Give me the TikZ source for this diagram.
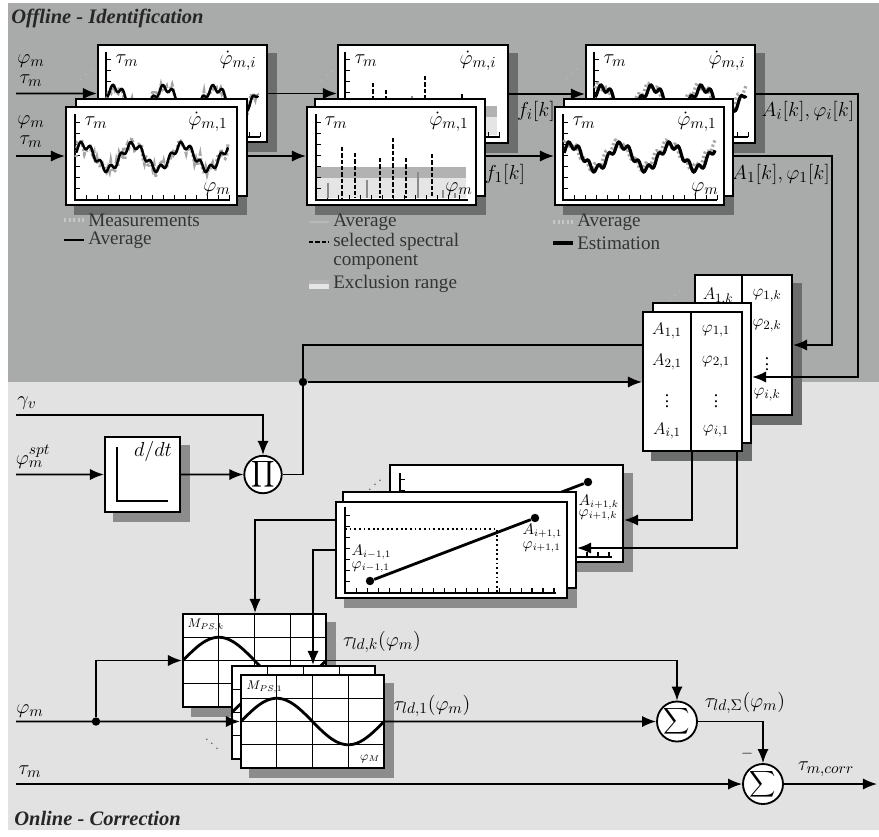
\documentclass[tikz,border=0pt]{standalone}
\usepackage{amsmath}
\usepackage{amssymb}
\usepackage{fontspec}
\setmainfont{Liberation Serif}
\usetikzlibrary{arrows.meta,fit}

\definecolor{offlinebg}{RGB}{169,171,170}
\definecolor{onlinebg}{RGB}{226,226,226}
\definecolor{shadowdark}{RGB}{108,109,109}
\definecolor{shadowlight}{RGB}{140,140,140}

\pgfdeclarelayer{bglayer}
\pgfdeclarelayer{shadowlayer}
\pgfsetlayers{bglayer,shadowlayer,main}

% shadow behind a sheet
\newcommand{\castshadow}[2]{%
  \begin{pgfonlayer}{shadowlayer}
    \fill[#2] ([shift={(9,9)}]#1.south west) rectangle ([shift={(9,9)}]#1.north east);
  \end{pgfonlayer}}

% axes with tick combs: left, top, right, bottom
\newcommand{\plotaxes}[4]{%
  \draw[xticks] (#1,{#4-2.5}) -- (#3,{#4-2.5});
  \draw[xticks] ({#1+2.5},#4) -- ({#1+2.5},#2);
  \draw[axisline] (#1,#2) -- (#1,#4) -- (#3,#4);}

% torque ripple: style, peak, centre line, from, to
\newcommand{\torquewave}[5]{%
  \draw[#1] plot[domain=#4:#5, samples=200] (\x, {#3-12*cos(7.2*(\x-#2))+3.5*sin(36*(\x-#2))});}

% scattered measurements round the ripple
\newcommand{\noisywave}[4]{%
  \draw[meas] plot[domain=#3:#4, samples=110] (\x, {#2-12*cos(7.2*(\x-#1))+3.5*sin(36*(\x-#1))+6*rand});}

% look-up map, top left corner
\newcommand{\lutmap}[2]{%
  \foreach \n in {1,2,3}{
    \draw[gridline] ({#1+\n*35.75},#2) -- ++(0,93);
    \draw[gridline] (#1,{#2+\n*23.25}) -- ++(143,0);}
  \draw[mapcurve] plot[domain=0:143, samples=80] ({#1+\x}, {#2+46.5-23.25*sin(2.5175*\x)});}

\pgfmathsetseed{7}

\begin{document}
\begin{tikzpicture}[x=0.025cm, y=-0.025cm,
  sheet/.style={draw, line width=1.5pt, fill=white, inner sep=0pt},
  wire/.style={line width=1.2pt},
  flow/.style={wire, -{Latex[length=10pt,width=8pt]}},
  junction/.style={circle, fill=black, inner sep=0pt, minimum size=6pt},
  opnode/.style={circle, draw, line width=1.3pt, fill=white, inner sep=0pt},
  axisline/.style={line width=1.3pt},
  xticks/.style={line width=0.125cm, dash pattern=on 1pt off 6.8pt},
  gridline/.style={line width=0.6pt},
  mapcurve/.style={line width=2pt},
  meas/.style={black!35, line width=2.2pt, dash pattern=on 1.6pt off 1.6pt},
  measkey/.style={meas, white!78!black},
  avgline/.style={line width=1.8pt},
  estline/.style={line width=2.3pt},
  selbar/.style={line width=2pt, dash pattern=on 3pt off 1.5pt},
  avgbar/.style={black!45, line width=1.2pt},
  avgkey/.style={avgbar, white!72!black},
  guide/.style={line width=1.3pt, dotted},
  segment/.style={line width=2pt},
  sig/.style={inner sep=1pt, font=\fontsize{15.5}{17}\selectfont},
  entry/.style={inner sep=1pt, font=\fontsize{12.5}{14}\selectfont},
  note/.style={inner sep=1pt, font=\fontsize{10.5}{12}\selectfont},
  mini/.style={inner sep=1pt, font=\fontsize{9}{10}\selectfont},
  legendtext/.style={anchor=west, inner sep=0pt, text=black!80, font=\fontsize{13.6}{15}\selectfont},
  heading/.style={anchor=west, inner sep=0pt, text=black!85, font=\fontsize{14.6}{16}\selectfont\bfseries\itshape},
  stackdots/.style={inner sep=0pt, text=white!72!black},
  lowdots/.style={inner sep=0pt, text=black!60}
]
\useasboundingbox (0,0) rectangle (879,836);
\begin{pgfonlayer}{bglayer}
  \fill[white] (0,0) rectangle (879,836);
  \fill[offlinebg] (8,3) rectangle (879,382);
  \fill[onlinebg] (8,382) rectangle (879,830);
\end{pgfonlayer}

\node[heading] (offline) at (11,18) {Offline - Identification};
\node[heading] (online) at (14,818) {Online - Correction};

% averaging of the measurements
\node[sheet, fit={(98,45) (267,142)}] (measback) {};
\castshadow{measback}{shadowdark}
\plotaxes{106}{52}{260}{137}
\noisywave{115}{100}{107}{258}
\torquewave{avgline}{115}{100}{107}{258}
\node[sig] (measbacktau) at (127,61) {$\tau_m$};
\node[sig] (measbackrate) at (238,61) {$\dot\varphi_{m,i}$};
\node[sheet, fit={(76,99) (247,196)}] (measmid) {};
\node[sheet, fit={(66,107) (237,205)}] (measfront) {};
\castshadow{measfront}{shadowdark}
\plotaxes{75}{114}{230}{200}
\noisywave{83}{157}{76}{228}
\torquewave{avgline}{83}{157}{76}{228}
\node[sig] (measfronttau) at (96,123) {$\tau_m$};
\node[sig] (measfrontrate) at (208,122) {$\dot\varphi_{m,1}$};
\node[sig] (measfrontphi) at (217,189) {$\varphi_m$};
\node[stackdots] (measdots) at (86,71) {\reflectbox{$\ddots$}};

% spectral analysis
\node[sheet, fit={(338,45) (508,143)}] (specback) {};
\castshadow{specback}{shadowdark}
\fill[black!30] (346,106) rectangle (497,117);
\fill[black!10] (346,117) rectangle (497,135);
\plotaxes{345}{52}{500}{137}
\foreach \bx/\by in {412/96, 440/120, 484/124}
  \draw[avgbar] (\bx,\by) -- (\bx,135);
\foreach \bx/\by in {373/83, 386/90, 425/76, 462/94}
  \draw[selbar] (\bx,\by) -- (\bx,135);
\node[sig] (specbacktau) at (366,61) {$\tau_m$};
\node[sig] (specbackrate) at (478,61) {$\dot\varphi_{m,i}$};
\node[sheet, fit={(315,99) (485,196)}] (specmid) {};
\node[sheet, fit={(307,107) (476,205)}] (specfront) {};
\castshadow{specfront}{shadowdark}
\fill[black!30] (317,167) rectangle (466,178);
\fill[black!10] (317,178) rectangle (466,198);
\plotaxes{316}{114}{468}{200}
\foreach \bx/\by in {328/183, 367/180, 418/172, 443/190, 455/193}
  \draw[avgbar] (\bx,\by) -- (\bx,198);
\foreach \bx/\by in {342/147, 355/153, 380/158, 393/138, 406/158, 432/154}
  \draw[selbar] (\bx,\by) -- (\bx,198);
\node[sig] (specfronttau) at (336,123) {$\tau_m$};
\node[sig] (specfrontrate) at (449,122) {$\dot\varphi_{m,1}$};
\node[sig] (specfrontphi) at (459,189) {$\varphi_m$};
\node[stackdots] (specdots) at (327,72) {\reflectbox{$\ddots$}};

% estimation
\node[sheet, fit={(586,45) (755,143)}] (estback) {};
\castshadow{estback}{shadowdark}
\plotaxes{594}{52}{748}{137}
\torquewave{meas}{600}{98}{595}{746}
\torquewave{estline}{603}{100}{595}{746}
\node[sig] (estbacktau) at (615,61) {$\tau_m$};
\node[sig] (estbackrate) at (727,61) {$\dot\varphi_{m,i}$};
\node[sheet, fit={(564,99) (733,196)}] (estmid) {};
\node[sheet, fit={(555,107) (724,205)}] (estfront) {};
\castshadow{estfront}{shadowdark}
\plotaxes{563}{114}{717}{200}
\torquewave{meas}{568}{155}{564}{715}
\torquewave{estline}{571}{157}{564}{715}
\node[sig] (estfronttau) at (584,123) {$\tau_m$};
\node[sig] (estfrontrate) at (697,122) {$\dot\varphi_{m,1}$};
\node[sig] (estfrontphi) at (705,189) {$\varphi_m$};
\node[stackdots] (estdots) at (572,70) {\reflectbox{$\ddots$}};

% legends
\draw[measkey] (64,220) -- (84,220);
\node[legendtext] (legmeas) at (88,220) {Measurements};
\draw[avgline] (64,240) -- (84,240);
\node[legendtext] (legavg) at (88,240) {Average};
\draw[avgkey] (309,222) -- (329,222);
\node[legendtext] (legspecavg) at (333,222) {Average};
\draw[selbar] (309,242) -- (329,242);
\node[legendtext] (legsel) at (333,242) {selected spectral};
\node[legendtext] (legcomp) at (333,262) {component};
\fill[black!30] (309,280) rectangle (329,284);
\fill[white!90!black] (309,284) rectangle (329,289);
\node[legendtext] (legexcl) at (333,284) {Exclusion range};
\draw[measkey] (553,222) -- (573,222);
\node[legendtext] (legestavg) at (577,222) {Average};
\draw[estline] (553,243) -- (573,243);
\node[legendtext] (legest) at (577,243) {Estimation};

% inputs and signal flow of the identification
\node[sig] (inphiB) at (31,61) {$\varphi_m$};
\node[sig] (intauB) at (31,81) {$\tau_m$};
\node[sig] (inphiF) at (31,122) {$\varphi_m$};
\node[sig] (intauF) at (31,142) {$\tau_m$};
\coordinate (inB) at (16,93.5);
\coordinate (inF) at (16,156);
\draw[flow] (inB) -- (measback.west);
\draw[flow] (inF) -- (measfront.west);
\draw[flow] (measback.east) -- (measback.east -| specback.west);
\draw[flow] (measfront.east -| measmid.east) -- (specfront.west);
\draw[flow] (specback.east) -- (specback.east -| estback.west);
\draw[flow] (specfront.east -| specmid.east) -- (estfront.west);
\node[sig] (freqI) at (536,111) {$f_i[k]$};
\node[sig] (freqOne) at (505,174) {$f_1[k]$};
\node[sig] (coefI) at (808,111) {$A_i[k],\varphi_i[k]$};
\node[sig] (coefOne) at (781,174) {$A_1[k],\varphi_1[k]$};

% coefficient tables
\node[sheet, fit={(695,275) (792,415)}] (tabback) {};
\castshadow{tabback}{shadowdark}
\draw[wire, line width=1.5pt] (742,275) -- (742,415);
\node[entry] (a1k) at (718,296) {$A_{1,k}$};
\node[entry] (p1k) at (767,296) {$\varphi_{1,k}$};
\node[entry] (p2k) at (767,326) {$\varphi_{2,k}$};
\node[entry] (pdk) at (767,360) {$\vdots$};
\node[entry] (pik) at (767,395) {$\varphi_{i,k}$};
\node[sheet, fit={(653,303) (751,443)}] (tabmid) {};
\node[sheet, fit={(643,312) (742,451)}] (tabfront) {};
\castshadow{tabfront}{shadowdark}
\draw[wire, line width=1.5pt] (691,312) -- (691,451);
\node[entry] (a11) at (667,331) {$A_{1,1}$};
\node[entry] (p11) at (716,331) {$\varphi_{1,1}$};
\node[entry] (a21) at (667,362) {$A_{2,1}$};
\node[entry] (p21) at (716,362) {$\varphi_{2,1}$};
\node[entry] (ad1) at (667,397) {$\vdots$};
\node[entry] (pd1) at (716,397) {$\vdots$};
\node[entry] (ai1) at (667,431) {$A_{i,1}$};
\node[entry] (pi1) at (716,431) {$\varphi_{i,1}$};
\node[stackdots] (tabdots) at (675,292) {\reflectbox{$\ddots$}};

\coordinate (riseI) at (858,94);
\coordinate (dropI) at (858,377);
\coordinate (riseOne) at (832,156);
\coordinate (dropOne) at (832,345);
\draw[flow] (estback.east) -- (riseI) -- (dropI) -- (dropI -| tabmid.east);
\draw[flow] (estfront.east -| estmid.east) -- (riseOne) -- (dropOne) -- (dropOne -| tabback.east);

% speed gain
\node[sig] (gamma) at (27,403) {$\gamma_v$};
\node[sig] (phispt) at (33,457) {$\varphi_m^{spt}$};
\node[sheet, fit={(105,437) (180,512)}] (ddt) {};
\castshadow{ddt}{shadowlight}
\draw[line width=2pt] (117,447) -- (117,501) -- (168,501);
\node[sig] (ddtlabel) at (153,451) {$d/dt$};
\node[opnode, minimum size=0.85cm] (prodnode) at (263,474.5) {\fontsize{13}{14}\selectfont$\displaystyle\prod$};
\coordinate (gin) at (16,415);
\coordinate (sin) at (16,474.5);
\draw[flow] (gin) -| (prodnode.north);
\draw[flow] (sin) -- (ddt.west);
\draw[flow] (ddt.east) -- (prodnode.west);
\node[junction] (knot) at (303,382) {};
\coordinate (bendT) at (303,345);
\draw[wire] (prodnode.east) -- (prodnode.east -| knot) -- (bendT) -- (bendT -| tabfront.west);
\draw[flow] (knot) -- (knot -| tabfront.west);

% interpolation
\node[sheet, fit={(390,465) (623,562)}] (interpback) {};
\castshadow{interpback}{shadowlight}
\plotaxes{400}{473}{612}{557}
\node[junction] (supportk) at (588,482) {};
\coordinate (startk) at (430,542);
\draw[segment] (startk) -- (supportk);
\node[note, anchor=west] (ak) at (577,502) {$A_{i+1,k}$};
\node[note, anchor=west] (pk) at (577,515) {$\varphi_{i+1,k}$};
\node[sheet, fit={(343,492) (576,588)}] (interpmid) {};
\node[sheet, fit={(336,502) (567,598)}] (interpfront) {};
\castshadow{interpfront}{shadowlight}
\plotaxes{345}{507}{556}{593}
\draw[guide] (345,529) -- (497,529) -- (497,593);
\node[junction] (supportlo) at (370,581) {};
\node[junction] (supporthi) at (535,518) {};
\draw[segment] (supportlo) -- (supporthi);
\node[note, anchor=west] (alo) at (350,552) {$A_{i-1,1}$};
\node[note, anchor=west] (plo) at (350,567) {$\varphi_{i-1,1}$};
\node[note, anchor=west] (ahi) at (521,531) {$A_{i+1,1}$};
\node[note, anchor=west] (phi) at (521,547) {$\varphi_{i+1,1}$};
\node[lowdots] (interpdots) at (375,481) {\reflectbox{$\ddots$}};

\coordinate (tapA) at (692,520);
\coordinate (tapB) at (737,548);
\draw[flow] (tabfront.south -| tapA) -- (tapA) -- (tapA -| interpback.east);
\draw[flow] (tabfront.south -| tapB) -- (tapB) -- (tapB -| interpmid.east);

% look-up maps
\node[sheet, fit={(183,614) (326,707)}] (mapk) {};
\castshadow{mapk}{shadowlight}
\lutmap{183}{614}
\node[mini, anchor=west] (mapklabel) at (186,625) {$M_{PS,k}$};
\node[sheet, fit={(232,666) (375,759)}] (mapmid) {};
\lutmap{232}{666}
\node[sheet, fit={(241,675) (384,768)}] (mapfront) {};
\castshadow{mapfront}{shadowlight}
\lutmap{241}{675}
\node[mini, anchor=west] (maplabel) at (245,687) {$M_{PS,1}$};
\node[mini] (mapaxis) at (370,759) {$\varphi_M$};
\node[lowdots] (mapdots) at (212,740) {$\ddots$};

\coordinate (lutA) at (255,520);
\coordinate (lutB) at (313,550);
\draw[flow] (interpfront.west |- lutA) -- (lutA) -- (lutA |- mapk.north);
\draw[flow] (interpfront.west |- lutB) -- (lutB) -- (lutB |- mapmid.north);

% correction
\node[sig] (phim) at (30,711) {$\varphi_m$};
\node[sig] (taum) at (30,772) {$\tau_m$};
\coordinate (phin) at (16,721.5);
\coordinate (tin) at (16,784);
\coordinate (tout) at (877,784);
\node[junction] (phidot) at (96,721.5) {};
\node[opnode, minimum size=1cm] (sumld) at (677,721.5) {\fontsize{13}{14}\selectfont$\displaystyle\sum$};
\node[opnode, minimum size=1cm] (sumcorr) at (763,784) {\fontsize{13}{14}\selectfont$\displaystyle\sum$};
\draw[flow] (phin) -- (mapfront.west);
\draw[flow] (phidot) |- (mapk.west);
\draw[flow] (mapk.east) -| (sumld.north);
\draw[flow] (mapfront.east) -- (sumld.west);
\draw[flow] (sumld.east) -| (sumcorr.north);
\draw[flow] (tin) -- (sumcorr.west);
\draw[flow] (sumcorr.east) -- (tout);
\node[sig] (tauldk) at (382,642) {$\tau_{ld,k}(\varphi_m)$};
\node[sig] (tauld1) at (432,706) {$\tau_{ld,1}(\varphi_m)$};
\node[sig] (tauldsum) at (745,703) {$\tau_{ld,\Sigma}(\varphi_m)$};
\node[note] (minus) at (747,754) {$-$};
\node[sig] (taucorr) at (826,769) {$\tau_{m,corr}$};
\end{tikzpicture}
\end{document}
